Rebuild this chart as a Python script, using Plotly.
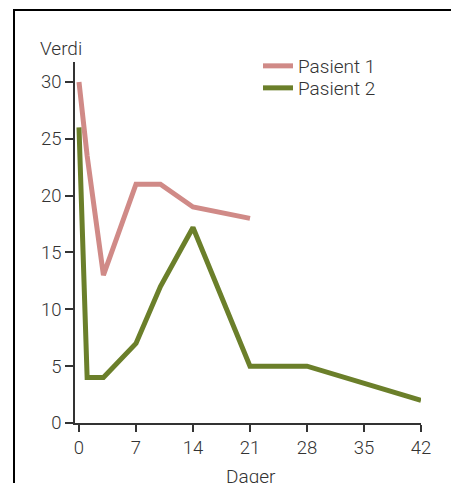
import plotly.graph_objects as go

days_p1 = [0, 1, 3, 7, 10, 14, 21]
values_p1 = [30, 23.5, 13, 21, 21, 19, 18]
days_p2 = [0, 1, 3, 7, 10, 14, 21, 28, 42]
values_p2 = [26, 4, 4, 7, 12, 17.2, 5, 5, 2]
x_ticks = [0, 7, 14, 21, 28, 35, 42]
y_ticks = [0, 5, 10, 15, 20, 25, 30]
series_names = ["Pasient 1", "Pasient 2"]

W, H = 451, 483
L, R, T, B = 75, 421, 62, 423

def px(x):
    return (x - L) / (R - L)

def py(y):
    return (B - y) / (B - T)

tick_font = dict(family="Roboto, Liberation Sans, Arial, sans-serif", size=18.5, color="#333333", weight=300)
text_font = dict(family="Roboto, Liberation Sans, Arial, sans-serif", size=19, color="#333333", weight=300)

fig = go.Figure()
fig.add_trace(go.Scatter(x=days_p1, y=values_p1, mode="lines", name=series_names[0],
                         line=dict(color="#d08a87", width=5), legend="legend"))
fig.add_trace(go.Scatter(x=days_p2, y=values_p2, mode="lines", name=series_names[1],
                         line=dict(color="#6b7f2a", width=5), legend="legend2"))

axis_common = dict(showgrid=False, zeroline=False, showline=True, linecolor="#333333",
                   linewidth=1.5, ticks="outside", tickcolor="#333333", tickwidth=1.5,
                   tickfont=tick_font)
fig.update_xaxes(range=[-0.49, 42], tickvals=x_ticks, ticklen=7, **axis_common)
fig.update_yaxes(range=[0, 31.75], tickvals=y_ticks, ticklen=8, **axis_common)

legend_common = dict(xanchor="left", yanchor="middle", bgcolor="rgba(0,0,0,0)", font=text_font)

fig.update_layout(
    width=W, height=H,
    margin=dict(l=L, r=W - R, t=T, b=H - B),
    plot_bgcolor="white", paper_bgcolor="white",
    font=text_font,
    showlegend=True,
    legend=dict(x=px(258), y=py(66), **legend_common),
    legend2=dict(x=px(258), y=py(88), **legend_common),
    annotations=[
        dict(text="Verdi", x=px(61), y=py(49), xref="paper", yref="paper",
             showarrow=False, xanchor="center", yanchor="middle", font=text_font),
        dict(text="Dager", x=px(251), y=py(477), xref="paper", yref="paper",
             showarrow=False, xanchor="center", yanchor="middle", font=text_font),
    ],
)

# page frame (top and left rules) drawn as an overlay
post = (
    "var s=document.createElement('style');"
    "s.textContent='html,body{margin:0!important;padding:0!important;overflow:hidden!important;}';"
    "document.head.appendChild(s);"
    "var f=document.createElement('div');"
    "f.style.cssText='position:absolute;left:13px;top:9px;width:600px;height:600px;"
    "border-top:2.5px solid #000;border-left:2.5px solid #000;pointer-events:none;z-index:10;';"
    "document.body.appendChild(f);window.scrollTo(0,0);"
)

fig.write_html("out.html", config={"displayModeBar": False}, post_script=post)
